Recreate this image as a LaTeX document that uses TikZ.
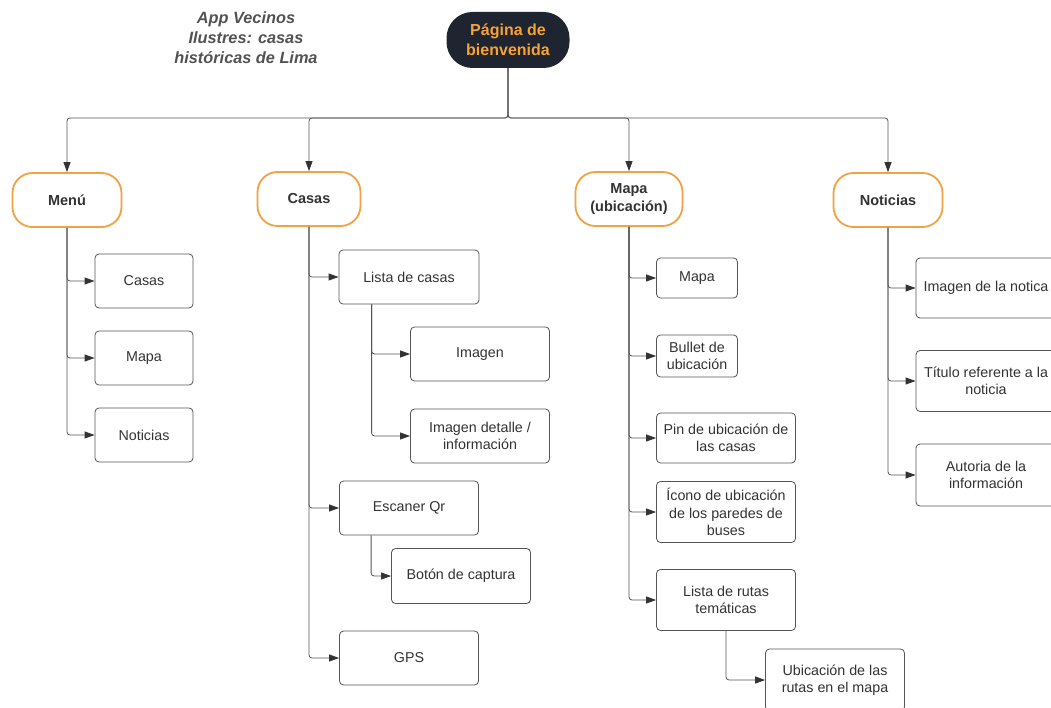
\documentclass[tikz,border=0pt]{standalone}
\usepackage{fontspec}
\setmainfont{Liberation Sans}
\usetikzlibrary{arrows.meta}
\definecolor{pillorange}{HTML}{F2A144}
\definecolor{rootfill}{HTML}{1E2430}
\definecolor{roottext}{HTML}{F7A234}
\definecolor{txt}{HTML}{333333}
\definecolor{edge}{HTML}{555555}
\tikzset{
  box/.style={draw=edge, rounded corners=4pt, line width=0.8pt, align=center, text=txt,
    font=\fontsize{14.3}{17.5}\selectfont, inner sep=2pt},
  pill/.style={draw=pillorange, line width=1.8pt, rounded corners=20pt, fill=white, align=center,
    font=\bfseries\fontsize{14.5}{18}\selectfont, text=txt, minimum height=54pt},
  rootnode/.style={fill=rootfill, rounded corners=26pt, align=center, text=roottext,
    font=\bfseries\fontsize{16}{20}\selectfont, minimum width=123pt, minimum height=56pt},
  conn/.style={draw=edge, line width=0.8pt, rounded corners=3pt},
  arr/.style={conn, -{Triangle[length=10pt,width=7pt,color=black!80,fill=black!80]}},
}
\begin{document}
\begin{tikzpicture}[x=1pt,y=-1pt]
\useasboundingbox[fill=white] (0,0) rectangle (1051,708);

% title
\node[align=center, text=black!68, font=\bfseries\itshape\fontsize{16.3}{20}\selectfont] (title) at (246,38)
  {App Vecinos\\Ilustres: casas\\históricas de Lima};

% root
\node[rootnode] (root) at (508,40) {Página de\\bienvenida};

% level 1
\node[pill, minimum width=109pt] (menu) at (67,200) {Menú};
\node[pill, minimum width=103pt] (casas) at (309,199) {Casas};
\node[pill, minimum width=107pt] (mapa) at (629,199) {Mapa\\(ubicación)};
\node[pill, minimum width=109pt] (noti) at (888,200) {Noticias};

\coordinate (bus) at (508,118);
\draw[arr] (root.south) -- (root.south |- bus) -| (menu.north);
\draw[arr] (root.south) -- (root.south |- bus) -| (casas.north);
\draw[arr] (root.south) -- (root.south |- bus) -| (mapa.north);
\draw[arr] (root.south) -- (root.south |- bus) -| (noti.north);

% Menu children
\node[box, minimum width=98pt, minimum height=54pt] (m1) at (144,281) {Casas};
\node[box, minimum width=98pt, minimum height=54pt] (m2) at (144,358) {Mapa};
\node[box, minimum width=98pt, minimum height=54pt] (m3) at (144,435) {Noticias};
\foreach \c in {m1,m2,m3} \draw[arr] (menu.south) |- (\c.west);

% Casas children
\node[box, minimum width=140pt, minimum height=54pt] (c1) at (409,277) {Lista de casas};
\node[box, minimum width=139pt, minimum height=54pt] (c11) at (480,354) {Imagen};
\node[box, minimum width=139pt, minimum height=54pt] (c12) at (480,436) {Imagen detalle /\\información};
\node[box, minimum width=139pt, minimum height=54pt] (c2) at (409,508) {Escaner Qr};
\node[box, minimum width=139pt, minimum height=55pt] (c21) at (461,576) {Botón de captura};
\node[box, minimum width=139pt, minimum height=54pt] (c3) at (409,658) {GPS};
\foreach \c in {c1,c2,c3} \draw[arr] (casas.south) |- (\c.west);
\coordinate (c1s) at ([xshift=33pt]c1.south west);
\coordinate (c2s) at ([xshift=32pt]c2.south west);
\draw[arr] (c1s) |- (c11.west);
\draw[arr] (c1s) |- (c12.west);
\draw[arr] (c2s) |- (c21.west);

% Mapa children
\node[box, minimum width=81pt, minimum height=40pt] (p1) at (697,278) {Mapa};
\node[box, minimum width=81pt, minimum height=42pt] (p2) at (697,356) {Bullet de\\ubicación};
\node[box, minimum width=139pt, minimum height=50pt] (p3) at (726,438) {Pin de ubicación de\\las casas};
\node[box, minimum width=139pt, minimum height=61pt] (p4) at (726,512) {Ícono de ubicación\\de los paredes de\\buses};
\node[box, minimum width=139pt, minimum height=61pt] (p5) at (726,600) {Lista de rutas\\temáticas};
\node[box, minimum width=139pt, minimum height=62pt] (p51) at (835,680) {Ubicación de las\\rutas en el mapa};
\foreach \c in {p1,p2,p3,p4,p5} \draw[arr] (mapa.south) |- (\c.west);
\draw[arr] (p5.south) |- (p51.west);

% Noticias children
\node[box, minimum width=140pt, minimum height=60pt] (n1) at (986,288) {Imagen de la notica};
\node[box, minimum width=140pt, minimum height=61pt] (n2) at (986,381) {Título referente a la\\noticia};
\node[box, minimum width=140pt, minimum height=62pt] (n3) at (986,475) {Autoria de la\\información};
\foreach \c in {n1,n2,n3} \draw[arr] (noti.south) |- (\c.west);
\end{tikzpicture}
\end{document}
